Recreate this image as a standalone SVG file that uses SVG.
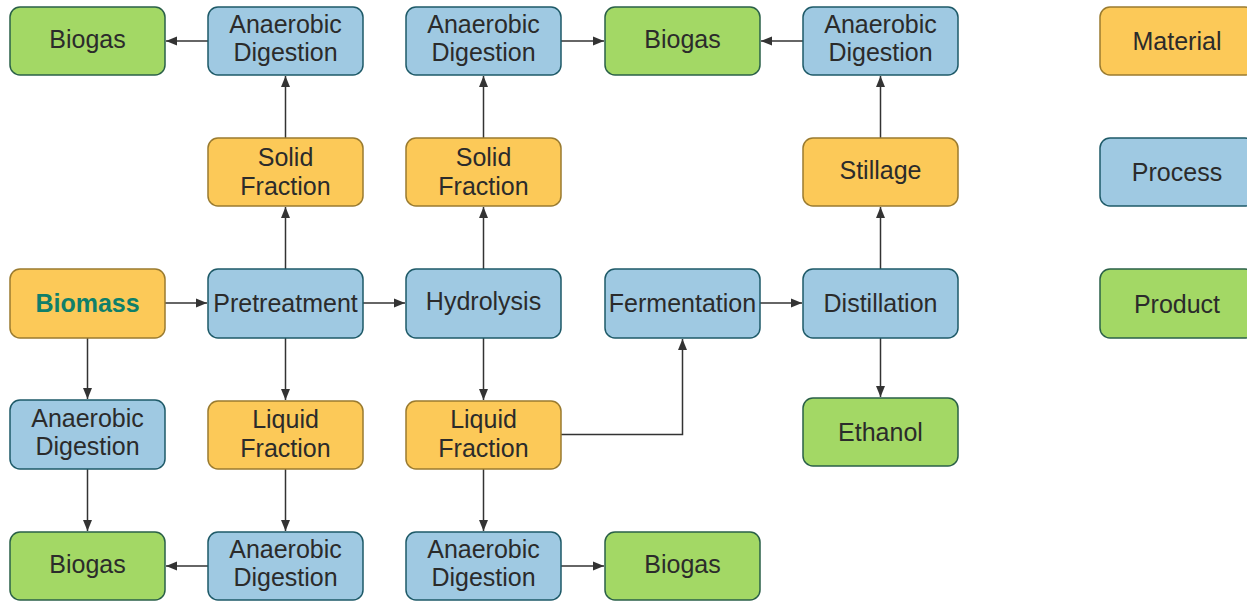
<svg xmlns="http://www.w3.org/2000/svg" width="1247" height="601" viewBox="0 0 1247 601">
<defs>
<style>
.box{stroke-width:1.5}
.mat{fill:#FCC958;stroke:#9A7B2F}
.proc{fill:#9FC9E2;stroke:#1E5A68}
.prod{fill:#A3D865;stroke:#2A6048}
text{font-family:"Liberation Sans",Arial,sans-serif;font-size:25px;fill:#2b2b2b;text-anchor:middle}
.bio{fill:#0F7F6A;font-weight:bold}
.edge{fill:none;stroke:#333;stroke-width:1.5}
</style>
<marker id="ah" markerUnits="userSpaceOnUse" markerWidth="12" markerHeight="10" refX="11" refY="5" orient="auto">
<path d="M0,0.5 L11,5 L0,9.5 Z" fill="#333"/>
</marker>
</defs>
<rect width="1247" height="601" fill="#fff"/>
<g id="connectors">
<path class="edge" d="M208,41 H166" marker-end="url(#ah)"/>
<path class="edge" d="M285.5,138 V76" marker-end="url(#ah)"/>
<path class="edge" d="M285.5,269 V207" marker-end="url(#ah)"/>
<path class="edge" d="M165,303 H207" marker-end="url(#ah)"/>
<path class="edge" d="M363,303 H405" marker-end="url(#ah)"/>
<path class="edge" d="M483.5,269 V207" marker-end="url(#ah)"/>
<path class="edge" d="M483.5,138 V76" marker-end="url(#ah)"/>
<path class="edge" d="M561,41 H604" marker-end="url(#ah)"/>
<path class="edge" d="M803,41 H761" marker-end="url(#ah)"/>
<path class="edge" d="M880.5,138 V76" marker-end="url(#ah)"/>
<path class="edge" d="M880.5,269 V207" marker-end="url(#ah)"/>
<path class="edge" d="M760,303 H802" marker-end="url(#ah)"/>
<path class="edge" d="M880.5,338 V397" marker-end="url(#ah)"/>
<path class="edge" d="M87.5,338 V399" marker-end="url(#ah)"/>
<path class="edge" d="M87.5,469 V531" marker-end="url(#ah)"/>
<path class="edge" d="M285.5,338 V400" marker-end="url(#ah)"/>
<path class="edge" d="M285.5,469 V531" marker-end="url(#ah)"/>
<path class="edge" d="M208,566 H166" marker-end="url(#ah)"/>
<path class="edge" d="M483.5,338 V400" marker-end="url(#ah)"/>
<path class="edge" d="M483.5,469 V531" marker-end="url(#ah)"/>
<path class="edge" d="M561,566 H604" marker-end="url(#ah)"/>
<path class="edge" d="M561,434.5 H682.5 V339" marker-end="url(#ah)"/>
</g>
<g id="biogas1"><rect class="box prod" x="10" y="7" width="155" height="68" rx="10"/><text x="87.5" y="48">Biogas</text></g>
<g id="ad1"><rect class="box proc" x="208" y="7" width="155" height="68" rx="10"/><text x="285.5" y="33">Anaerobic</text><text x="285.5" y="61">Digestion</text></g>
<g id="ad2"><rect class="box proc" x="406" y="7" width="155" height="68" rx="10"/><text x="483.5" y="33">Anaerobic</text><text x="483.5" y="61">Digestion</text></g>
<g id="biogas2"><rect class="box prod" x="605" y="7" width="155" height="68" rx="10"/><text x="682.5" y="48">Biogas</text></g>
<g id="ad3"><rect class="box proc" x="803" y="7" width="155" height="68" rx="10"/><text x="880.5" y="33">Anaerobic</text><text x="880.5" y="61">Digestion</text></g>
<g id="solid1"><rect class="box mat" x="208" y="138" width="155" height="68" rx="10"/><text x="285.5" y="166">Solid</text><text x="285.5" y="195">Fraction</text></g>
<g id="solid2"><rect class="box mat" x="406" y="138" width="155" height="68" rx="10"/><text x="483.5" y="166">Solid</text><text x="483.5" y="195">Fraction</text></g>
<g id="stillage"><rect class="box mat" x="803" y="138" width="155" height="68" rx="10"/><text x="880.5" y="179">Stillage</text></g>
<g id="biomass"><rect class="box mat" x="10" y="269" width="155" height="69" rx="10"/><text class="bio" x="87.5" y="312">Biomass</text></g>
<g id="pretreatment"><rect class="box proc" x="208" y="269" width="155" height="69" rx="10"/><text x="285.5" y="312">Pretreatment</text></g>
<g id="hydrolysis"><rect class="box proc" x="406" y="269" width="155" height="69" rx="10"/><text x="483.5" y="310">Hydrolysis</text></g>
<g id="fermentation"><rect class="box proc" x="605" y="269" width="155" height="69" rx="10"/><text x="682.5" y="312">Fermentation</text></g>
<g id="distillation"><rect class="box proc" x="803" y="269" width="155" height="69" rx="10"/><text x="880.5" y="312">Distillation</text></g>
<g id="ad4"><rect class="box proc" x="10" y="400" width="155" height="69" rx="10"/><text x="87.5" y="427">Anaerobic</text><text x="87.5" y="455">Digestion</text></g>
<g id="liquid1"><rect class="box mat" x="208" y="401" width="155" height="68" rx="10"/><text x="285.5" y="428">Liquid</text><text x="285.5" y="457">Fraction</text></g>
<g id="liquid2"><rect class="box mat" x="406" y="401" width="155" height="68" rx="10"/><text x="483.5" y="428">Liquid</text><text x="483.5" y="457">Fraction</text></g>
<g id="ethanol"><rect class="box prod" x="803" y="398" width="155" height="68" rx="10"/><text x="880.5" y="441">Ethanol</text></g>
<g id="biogas3"><rect class="box prod" x="10" y="532" width="155" height="68" rx="10"/><text x="87.5" y="573">Biogas</text></g>
<g id="ad5"><rect class="box proc" x="208" y="532" width="155" height="68" rx="10"/><text x="285.5" y="558">Anaerobic</text><text x="285.5" y="586">Digestion</text></g>
<g id="ad6"><rect class="box proc" x="406" y="532" width="155" height="68" rx="10"/><text x="483.5" y="558">Anaerobic</text><text x="483.5" y="586">Digestion</text></g>
<g id="biogas4"><rect class="box prod" x="605" y="532" width="155" height="68" rx="10"/><text x="682.5" y="573">Biogas</text></g>
<g id="legend-material"><rect class="box mat" x="1100" y="7" width="155" height="68" rx="10"/><text x="1177" y="50">Material</text></g>
<g id="legend-process"><rect class="box proc" x="1100" y="138" width="155" height="68" rx="10"/><text x="1177" y="181">Process</text></g>
<g id="legend-product"><rect class="box prod" x="1100" y="269" width="155" height="69" rx="10"/><text x="1177" y="313">Product</text></g>
</svg>
